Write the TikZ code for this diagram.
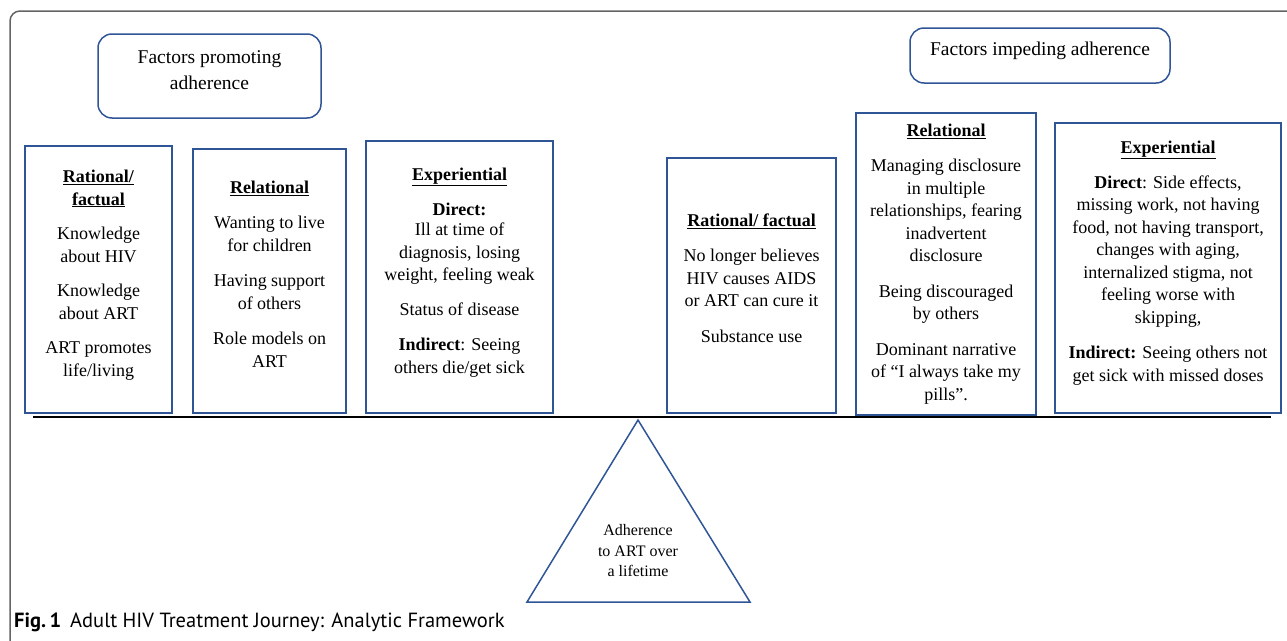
\documentclass[tikz,border=0pt]{standalone}
\usepackage{fontspec}
\setmainfont{Liberation Serif}
\newfontfamily\capfont{PT Sans}
\usepackage{tikz}
\usetikzlibrary{positioning}
\definecolor{boxBlue}{RGB}{47, 85, 151}
\definecolor{frameGray}{RGB}{100, 100, 100}

\begin{document}
\begin{tikzpicture}
  [
    x=1pt, y=-1pt,
    Box/.style={rectangle, draw=boxBlue, line width=1.5pt, align=center, inner sep=0pt, font=\fontsize{18}{22.5}\selectfont},
    Head/.style={rectangle, rounded corners=14pt, draw=boxBlue, line width=1.5pt, align=center, inner sep=0pt, font=\fontsize{19.5}{26}\selectfont},
    Small/.style={align=center, inner sep=0pt, font=\fontsize{16}{20.5}\selectfont}
  ]
  \useasboundingbox (0, 0) rectangle (1287, 640);
  \clip (0, 0) rectangle (1287, 640);
  \draw[frameGray, line width=1.5pt, rounded corners=10pt] (10, 11) rectangle (1310, 670);

  % Nodes
  \node[Head, minimum width=223, minimum height=84] (hp) at(209.5, 76) {Factors promoting\\adherence\\[-14pt]};
  \node[Head, minimum width=260, minimum height=55] (hi) at(1040, 55.5) {Factors impeding adherence\\[-13pt]};

  \node[Box, minimum width=147, minimum height=267] (p1) at(98.5, 279.5)
    {\underline{\textbf{Rational/}}\\\underline{\textbf{factual}}\\[12pt]
     Knowledge\\about HIV\\[12pt]
     Knowledge\\about ART\\[12pt]
     ART promotes\\life/living\\[-9.5pt]};
  \node[Box, minimum width=153, minimum height=264] (p2) at(269.5, 281)
    {\underline{\textbf{Relational}}\\[12.5pt]
     Wanting to live\\for children\\[13pt]
     Having support\\of others\\[13pt]
     Role models on\\ART\\[-8.5pt]};
  \node[Box, minimum width=187, minimum height=272] (p3) at(459.5, 277)
    {\underline{\textbf{Experiential}}\\[12.5pt]
     \textbf{Direct:}\\[-2pt]
     Ill at time of\\diagnosis, losing\\weight, feeling weak\\[12.5pt]
     Status of disease\\[12.5pt]
     \textbf{Indirect}: Seeing\\others die/get sick\\[-9.5pt]};

  \node[Box, minimum width=169, minimum height=255] (i1) at(751.5, 285.5)
    {\underline{\textbf{Rational/ factual}}\\[12.5pt]
     No longer believes\\HIV causes AIDS\\or ART can cure it\\[13pt]
     Substance use\\[-7.5pt]};
  \node[Box, minimum width=180, minimum height=302] (i2) at(946, 264)
    {\underline{\textbf{Relational}}\\[12.5pt]
     Managing disclosure\\in multiple\\relationships, fearing\\inadvertent\\disclosure\\[13pt]
     Being discouraged\\by others\\[13pt]
     Dominant narrative\\of “I always take my\\pills”.};
  \node[Box, minimum width=226, minimum height=290] (i3) at(1168, 268)
    {\underline{\textbf{Experiential}}\\[12.5pt]
     \textbf{Direct}: Side effects,\\missing work, not having\\food, not having transport,\\changes with aging,\\internalized stigma, not\\feeling worse with\\skipping,\\[13pt]
     \textbf{Indirect:} Seeing others not\\get sick with missed doses\\[-8.5pt]};

  \coordinate (beamL) at(33, 417);
  \coordinate (beamR) at(1271, 417);
  \coordinate (tipT) at(638, 420);
  \coordinate (tipL) at(527, 602);
  \coordinate (tipR) at(750, 602);
  \node[Small] (fulcrum) at(638, 551) {Adherence\\to ART over\\a lifetime};

  \node[anchor=base west, inner sep=0pt, font=\capfont\fontsize{20.5}{24}\selectfont] (cap) at(14, 627)
    {\textbf{Fig.\,1}\hspace{9pt}Adult HIV Treatment Journey: Analytic Framework};

  % Lines
  \path [draw, line width=1.3pt] (beamL) -- (beamR);
  \path [draw=boxBlue, line width=1.5pt, line join=miter] (tipT) -- (tipR) -- (tipL) -- cycle;

\end{tikzpicture}
\end{document}
